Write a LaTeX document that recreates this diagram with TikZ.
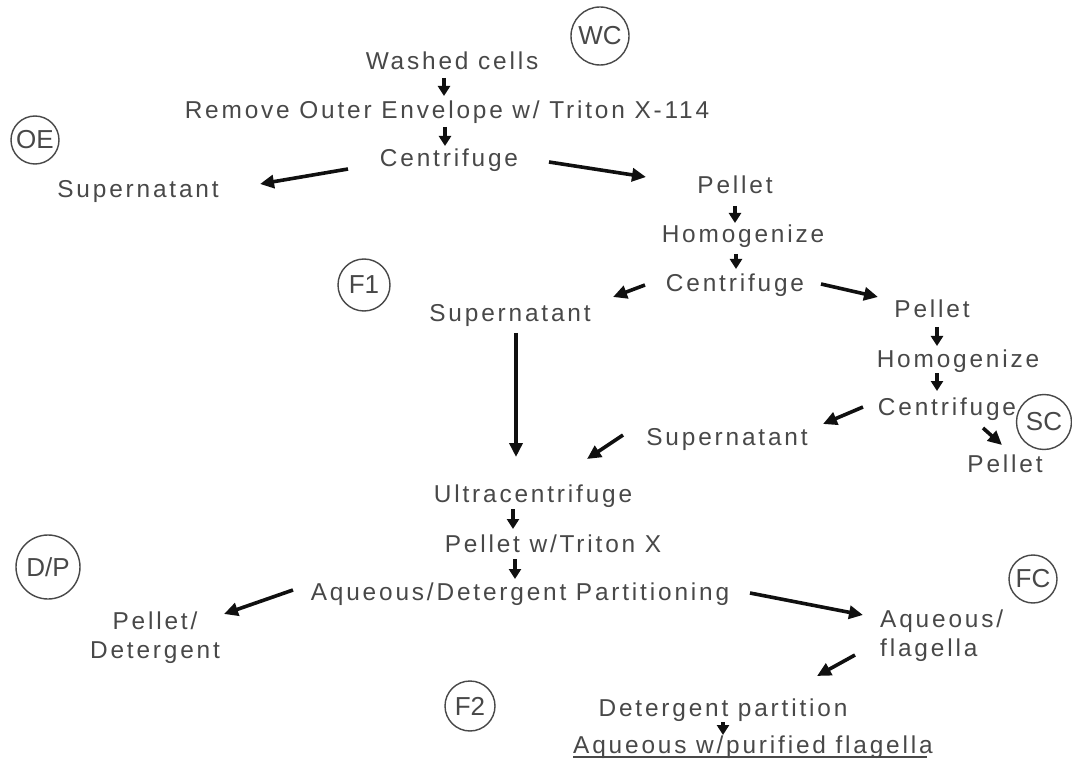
\documentclass[tikz,border=0pt]{standalone}
\usepackage{fontspec}
\setmainfont{Liberation Sans}[LetterSpace=11.6]
\newfontfamily\circfont{Liberation Sans}
\usetikzlibrary{arrows.meta,calc}
\definecolor{txt}{HTML}{484848}
\definecolor{ink}{HTML}{101010}
\tikzset{
  lbl/.style={inner sep=0pt, anchor=base, text=txt, font=\fontsize{24.4}{29}\selectfont},
  lbl2/.style={inner sep=0pt, text=txt, font=\fontsize{24.4}{29}\selectfont},
  tag/.style={circle, draw=txt, line width=1.4pt, inner sep=0pt, text=txt, font=\circfont\fontsize{26}{28}\selectfont},
  arr/.style={draw=ink, line width=3.6pt, -{Triangle[length=14pt,width=13pt]}},
  sarr/.style={draw=ink, line width=3.2pt, -{Triangle[length=10pt,width=12pt]}},
}
\begin{document}
\begin{tikzpicture}[x=1pt,y=-1pt]
\useasboundingbox (0,0) rectangle (1072,762);
\fill[white] (0,0) rectangle (1072,762);

% circled tags
\node[tag, minimum size=58pt] (wc) at (600,36) {WC};
\node[tag, minimum size=48pt] (oe) at (35,140) {OE};
\node[tag, minimum size=52pt] (f1) at (364,285) {F1};
\node[tag, minimum size=55pt] (sc) at (1044,422) {SC};
\node[tag, minimum size=64pt] (dp) at (48,567) {D/P};
\node[tag, minimum size=48pt] (fc) at (1033,579) {FC};
\node[tag, minimum size=50pt] (f2) at (470,706) {F2};

% text nodes
\node[lbl] (wash) at (452,70) {Washed cells};
\node[lbl] (remove) at (447,119) {Remove Outer Envelope w/ Triton X-114};
\node[lbl] (cen1) at (449,167) {Centrifuge};
\node[lbl] (sup1) at (138,198) {Supernatant};
\node[lbl] (pel1) at (735,194) {Pellet};
\node[lbl] (hom1) at (743,243) {Homogenize};
\node[lbl] (cen2) at (735,292) {Centrifuge};
\node[lbl] (sup2) at (510,322) {Supernatant};
\node[lbl] (pel2) at (932,318) {Pellet};
\node[lbl] (hom2) at (958,367) {Homogenize};
\node[lbl] (cen3) at (947,415) {Centrifuge};
\node[lbl] (sup3) at (727,445) {Supernatant};
\node[lbl] (pel3) at (1005,472) {Pellet};
\node[lbl] (ultra) at (533,502) {Ultracentrifuge};
\node[lbl] (pelw) at (553,552) {Pellet w/Triton X};
\node[lbl] (aqdet) at (520,600) {Aqueous/Detergent Partitioning};
\node[lbl2, align=center] (peldet) at (155,637.5) {Pellet/\\Detergent};
\node[lbl2, align=left, anchor=west] (aqfl) at (880,635.5) {Aqueous/\\flagella};
\node[lbl] (detp) at (723,716) {Detergent partition};
\node[lbl] (purif) at (753,753) {Aqueous w/purified flagella};
\draw[txt, line width=1.5pt] ($(purif.base west)+(0,4)$) -- ($(purif.base east)+(-6,4)$);

% connectors
\draw[sarr] ($(wash.base)+(-8,8)$) -- ($(remove.base)+(-3,-23)$);
\draw[sarr] ($(remove.base)+(-2,8)$) -- ($(cen1.base)+(-4,-21)$);
\draw[arr] ($(cen1.base)+(-101,2)$) -- ($(sup1.base)+(122,-14)$);
\draw[arr] ($(cen1.base)+(100,-5)$) -- ($(pel1.base)+(-89,-17)$);
\draw[sarr] ($(pel1.base)+(0,12)$) -- ($(hom1.base)+(-8,-20)$);
\draw[sarr] ($(hom1.base)+(-7,11)$) -- ($(cen2.base)+(1,-23)$);
\draw[arr] ($(cen2.base)+(-90,-7)$) -- ($(sup2.base)+(103,-25)$);
\draw[arr] ($(cen2.base)+(86,-8)$) -- ($(pel2.base)+(-54,-21)$);
\draw[sarr] ($(pel2.base)+(5,9)$) -- ($(hom2.base)+(-21,-21)$);
\draw[sarr] ($(hom2.base)+(-21,6)$) -- ($(cen3.base)+(-10,-24)$);
\draw[arr] ($(cen3.base)+(-84,-8)$) -- ($(sup3.base)+(96,-21)$);
\draw[arr] ($(cen3.base)+(36,13)$) -- ($(pel3.base)+(-3,-27)$);
\draw[arr] ($(sup2.base)+(6,11)$) -- ($(ultra.base)+(-17,-45)$);
\draw[arr] ($(sup3.base)+(-104,-10)$) -- ($(ultra.base)+(54,-43)$);
\draw[sarr] ($(ultra.base)+(-20,7)$) -- ($(pelw.base)+(-40,-23)$);
\draw[sarr] ($(pelw.base)+(-38,7)$) -- ($(aqdet.base)+(-5,-21)$);
\draw[arr] ($(aqdet.base)+(-227,-10)$) -- ($(peldet.center)+(69,-23.5)$);
\draw[arr] ($(aqdet.base)+(230,-7)$) -- ($(aqfl.west)+(-17,-20.5)$);
\draw[arr] ($(aqfl.west)+(-25,19.5)$) -- ($(detp.base)+(94,-40)$);
\draw[sarr] ($(detp.base)+(0,6)$) -- ($(purif.base)+(-30,-18)$);
\end{tikzpicture}
\end{document}
